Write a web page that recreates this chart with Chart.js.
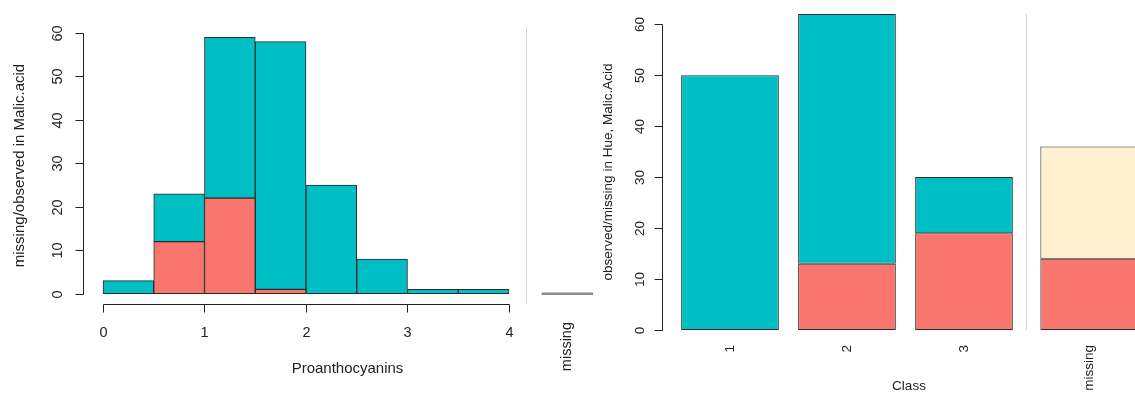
<!DOCTYPE html>
<html lang="en">

<head>
  <meta charset="utf-8">
  <title>Malic.acid missingness</title>
  <script src="https://cdn.jsdelivr.net/npm/chart.js"></script>
  <style>
    html, body { margin: 0; padding: 0; background: #fff; }
    .panels { position: relative; width: 1135px; height: 394px; overflow: hidden; }
    .panels canvas { position: absolute; top: 0; }
    #histChart { left: 0; }
    #classChart { left: 590px; }
  </style>
</head>

<body>
  <div class="panels">
    <canvas id="histChart" width="612" height="394"></canvas>
    <canvas id="classChart" width="566" height="394"></canvas>
  </div>

  <script>
    // Proanthocyanins histogram, bins of width 0.5
    const binStarts = [0, 0.5, 1, 1.5, 2, 2.5, 3, 3.5];
    const binObserved = [3, 11, 37, 57, 25, 8, 1, 1];
    const binMissing = [0, 12, 22, 1, 0, 0, 0, 0];
    const proNaCount = [0];
    const histTicks = [0, 1, 2, 3, 4];
    const histCountTicks = [0, 10, 20, 30, 40, 50, 60];

    // Class barplot
    const classLabels = ['1', '2', '3'];
    const classObserved = [50, 49, 11];
    const classMissing = [0, 13, 19];
    const naClassMissing = [14];
    const naClassObserved = [22];
    const classCountTicks = [0, 10, 20, 30, 40, 50, 60];

    const CYAN = '#00BFC4';
    const RED = '#F8766D';
    const CREAM = '#FFF1CF';
    const EDGE = '#2a2a2a';
    const INK = '#222';
    const FONT = '"Liberation Sans", Arial, sans-serif';

    function drawText(ctx, text, x, y, rotate, align) {
      ctx.save();
      ctx.translate(x, y);
      if (rotate) ctx.rotate(-Math.PI / 2);
      ctx.textAlign = align || 'center';
      ctx.textBaseline = 'middle';
      ctx.fillText(text, 0, 0);
      ctx.restore();
    }

    function line(ctx, x1, y1, x2, y2) {
      ctx.beginPath();
      ctx.moveTo(x1, y1);
      ctx.lineTo(x2, y2);
      ctx.stroke();
    }

    // base-graphics style axes: detached, only as long as the ticks
    const baseAxes = {
      id: 'baseAxes',
      beforeDatasetsDraw(chart, args, o) {
        const { ctx, chartArea: a, scales: { x } } = chart;
        const px = Math.round(x.getPixelForValue(o.divider)) + 0.5;
        ctx.save();
        ctx.strokeStyle = '#d4d4d4';
        ctx.lineWidth = 1;
        line(ctx, px, a.top, px, a.bottom);
        ctx.restore();
      },
      afterDraw(chart, args, o) {
        const { ctx, chartArea: a, scales: { x, y } } = chart;
        ctx.save();
        ctx.strokeStyle = INK;
        ctx.fillStyle = INK;
        ctx.lineWidth = 1;
        ctx.font = o.fontSize + 'px ' + FONT;

        // y axis
        const ax = a.left + 0.5;
        const yt = o.yTicks;
        line(ctx, ax, Math.round(y.getPixelForValue(yt[0])) + 0.5, ax, Math.round(y.getPixelForValue(yt[yt.length - 1])) + 0.5);
        yt.forEach(v => {
          const py = Math.round(y.getPixelForValue(v)) + 0.5;
          line(ctx, ax, py, ax - 8, py);
          drawText(ctx, String(v), a.left - o.yLabelGap, py, true);
        });

        // x axis
        if (o.xTicks) {
          const by = a.bottom + 0.5;
          const xt = o.xTicks;
          line(ctx, Math.round(x.getPixelForValue(xt[0])) + 0.5, by, Math.round(x.getPixelForValue(xt[xt.length - 1])) + 0.5, by);
          xt.forEach(v => {
            const px = Math.round(x.getPixelForValue(v)) + 0.5;
            line(ctx, px, by, px, by + 8);
            drawText(ctx, String(v), px, a.bottom + 29, false);
          });
        }
        // rotated category labels
        (o.xLabels || []).forEach(l => {
          drawText(ctx, l.text, x.getPixelForValue(l.at), a.bottom + o.xLabelGap, true, 'right');
        });

        ctx.font = o.titleSize + 'px ' + FONT;
        drawText(ctx, o.xTitle, (a.left + a.right) / 2, a.bottom + o.xTitleGap, false);
        drawText(ctx, o.yTitle, o.yTitleX, (a.top + a.bottom) / 2, true);
        ctx.restore();
      }
    };

    function fixTicks(values) {
      return scale => { scale.ticks = values.map(v => ({ value: v })); };
    }

    // left: histogram of Proanthocyanins, red where Malic.acid is missing
    const binWidth = 0.5;
    const proNaAt = 4.575;
    new Chart(document.getElementById('histChart'), {
      type: 'bar',
      data: {
        datasets: [
          { label: 'missing', data: binStarts.map((b, i) => ({ x: b + binWidth / 2, y: binMissing[i] })), backgroundColor: RED },
          { label: 'observed', data: binStarts.map((b, i) => ({ x: b + binWidth / 2, y: binObserved[i] })), backgroundColor: CYAN },
          { label: 'NA', data: [{ x: proNaAt, y: proNaCount[0] }], backgroundColor: '#8a8a8a', borderWidth: 0, minBarLength: 2 }
        ]
      },
      options: {
        responsive: false,
        animation: false,
        devicePixelRatio: 1,
        layout: { padding: { left: 83, top: 27, right: 0, bottom: 90 } },
        datasets: { bar: { barPercentage: 1, categoryPercentage: 1, borderColor: EDGE, borderWidth: 1, borderSkipped: false } },
        scales: {
          x: { type: 'linear', display: false, stacked: true, offset: false, min: -0.197, max: 5.015, afterBuildTicks: fixTicks(histTicks) },
          y: { type: 'linear', display: false, stacked: true, min: -2.36, max: 61.36, afterBuildTicks: fixTicks(histCountTicks) }
        },
        plugins: {
          legend: { display: false },
          tooltip: { enabled: false },
          baseAxes: {
            fontSize: 14.5, titleSize: 15,
            yTicks: histCountTicks, yLabelGap: 25,
            xTicks: histTicks,
            xLabels: [{ text: 'missing', at: proNaAt }], xLabelGap: 18,
            divider: 4.167,
            xTitle: 'Proanthocyanins', xTitleGap: 65,
            yTitle: 'missing/observed in Malic.acid', yTitleX: 20
          }
        }
      },
      plugins: [baseAxes]
    });

    // right: counts per Class, with the missing Class column split off
    const naClassAt = 3.07;
    new Chart(document.getElementById('classChart'), {
      type: 'bar',
      data: {
        datasets: [
          { label: 'missing', data: classLabels.map((c, i) => ({ x: i, y: classMissing[i] })).concat([{ x: naClassAt, y: naClassMissing[0] }]), backgroundColor: RED },
          { label: 'observed', data: classLabels.map((c, i) => ({ x: i, y: classObserved[i] })), backgroundColor: CYAN },
          { label: 'Class NA', data: [{ x: naClassAt, y: naClassObserved[0] }], backgroundColor: CREAM }
        ]
      },
      options: {
        responsive: false,
        animation: false,
        devicePixelRatio: 1,
        layout: { padding: { left: 72, top: 14, right: 0, bottom: 64 } },
        datasets: { bar: { barPercentage: 0.835, categoryPercentage: 1, borderColor: EDGE, borderWidth: 1, borderSkipped: false } },
        scales: {
          x: { type: 'linear', display: false, stacked: true, offset: false, min: -0.581, max: 3.641, afterBuildTicks: fixTicks(classLabels.map((c, i) => i)) },
          y: { type: 'linear', display: false, stacked: true, min: 0, max: 62, afterBuildTicks: fixTicks(classCountTicks) }
        },
        plugins: {
          legend: { display: false },
          tooltip: { enabled: false },
          baseAxes: {
            fontSize: 13.5, titleSize: 13.5,
            yTicks: classCountTicks, yLabelGap: 22,
            xLabels: classLabels.map((c, i) => ({ text: c, at: i })).concat([{ text: 'missing', at: naClassAt }]),
            xLabelGap: 15,
            divider: 2.53,
            xTitle: 'Class', xTitleGap: 56,
            yTitle: 'observed/missing in Hue, Malic.Acid', yTitleX: 18
          }
        }
      },
      plugins: [baseAxes]
    });
  </script>
</body>

</html>
